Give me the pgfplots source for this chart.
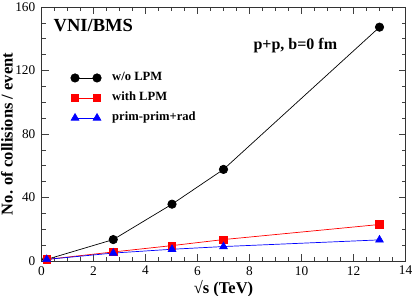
\documentclass[border=0pt]{standalone}
\usepackage{pgfplots}
\pgfplotsset{compat=1.18}
\usepackage{fontspec}
\setmainfont{Liberation Serif}
\begin{document}
\begin{tikzpicture}
\begin{axis}[
  scale only axis,
  width=364pt, height=254pt,
  xmin=0, xmax=14, ymin=0, ymax=160,
  xtick={0,2,...,14}, ytick={0,40,...,160},
  minor x tick num=3, minor y tick num=3,
  tick align=inside,
  major tick length=7pt, minor tick length=4pt,
  every tick/.style={black!75, line width=0.6pt},
  axis line style={black!80, line width=0.8pt},
  tick label style={font=\fontsize{13.3}{13.3}\selectfont, inner sep=0pt},
  xticklabel style={yshift=-5pt},
  yticklabel style={xshift=-6pt},
  /pgf/number format/assume math mode=true,
  xlabel={\textbf{√s (TeV)}},
  ylabel={\textbf{No. of collisions / event}},
  xlabel style={font=\fontsize{16.5}{16.5}\selectfont, inner sep=0pt, at={(rel axis cs:0.5,0)}, anchor=center, yshift=-27.3pt},
  ylabel style={font=\fontsize{16.5}{16.5}\selectfont, inner sep=0pt, at={(rel axis cs:0,0.5)}, anchor=center, yshift=34.5pt},
  legend style={draw=none, fill=none, inner sep=0pt, at={(rel axis cs:0.08,0.745)}, anchor=north west,
     font=\bfseries\fontsize{12.6}{12.6}\selectfont, row sep=8pt, column sep=0pt,
     nodes={inner sep=0pt, text height=9pt, text depth=3pt}, cells={anchor=west}},
  legend image code/.code={\draw[mark repeat=2,mark phase=1] plot coordinates {(0pt,0pt)(11pt,0pt)(22pt,0pt)};},
]
\addplot[black, line width=0.7pt, mark=*, mark size=4.2pt] coordinates {
(0.2,1) (2.76,13.5) (5.02,35.8) (7,57.7) (13,147.3)};
\addlegendentry{\hspace{11pt}w/o LPM}
\addplot[red, line width=0.7pt, mark=square*, mark size=3.7pt] coordinates {
(0.2,1) (2.76,5.7) (5.02,9.7) (7,13.5) (13,23)};
\addlegendentry{\hspace{11pt}with LPM}
\addplot[blue, line width=0.7pt, mark=triangle*, mark size=4.4pt] coordinates {
(0.2,1) (2.76,5) (5.02,7.4) (7,9.1) (13,13.3)};
\addlegendentry{\hspace{11pt}prim-prim+rad}
\node[anchor=base west, inner sep=0pt, font=\bfseries\fontsize{18.5}{18.5}\selectfont] at (rel axis cs:0.033,0.9016) {VNI/BMS};
\node[anchor=base west, inner sep=0pt, font=\bfseries\fontsize{16}{16}\selectfont] at (rel axis cs:0.582,0.833) {p+p, b=0 fm};
\end{axis}
\pgfresetboundingbox
\path (-41.5pt,-35pt) rectangle (372.5pt,261pt);
\end{tikzpicture}
\end{document}
